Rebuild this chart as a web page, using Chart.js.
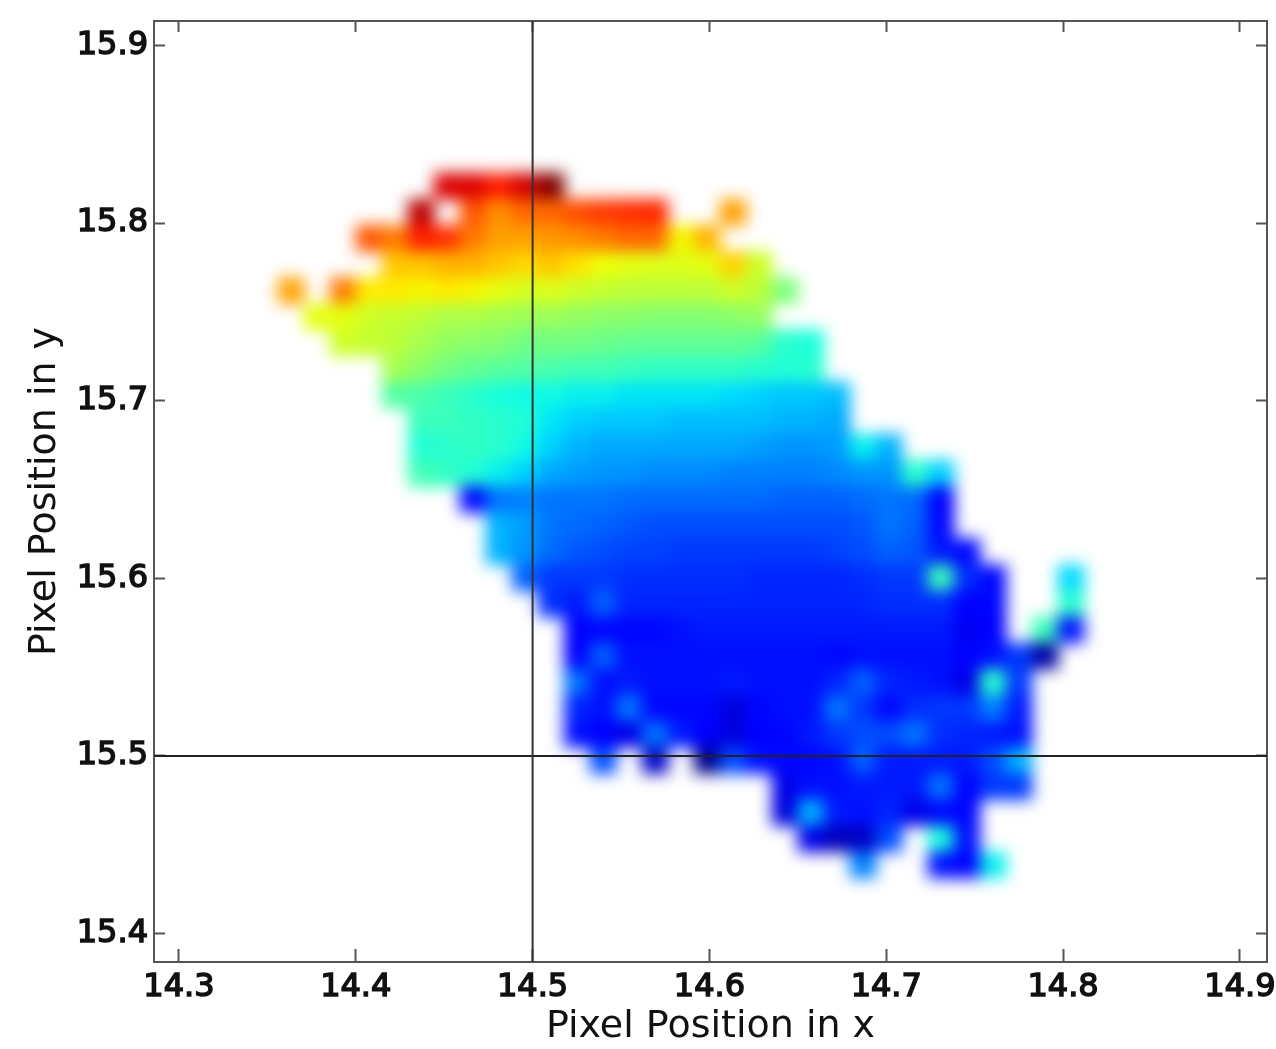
<!DOCTYPE html>
<html>
<head>
<meta charset="utf-8">
<title>Pixel Position</title>
<script src="https://cdn.jsdelivr.net/npm/chart.js@4/dist/chart.umd.min.js"></script>
<style>
  html, body { margin: 0; padding: 0; background: #fff; }
  .capa { position: absolute; left: 0; top: 0; width: 1276px; height: 1049px; }
  canvas { display: block; }
  /* the image in the reference is smoothed, the frame and text only a little */
  #celdas { filter: blur(8px); }
  #ejes { filter: blur(0.6px); }
</style>
</head>
<body>
<div class="capa"><canvas id="celdas"></canvas></div>
<div class="capa"><canvas id="ejes"></canvas></div>
<script>
// axis ranges and ticks
const xRange = [14.2859, 14.9153];
const yRange = [15.384, 15.9138];
const xTicks = [14.3, 14.4, 14.5, 14.6, 14.7, 14.8, 14.9];
const yTicks = [15.4, 15.5, 15.6, 15.7, 15.8, 15.9];
const crossX = 14.5;
const crossY = 15.5;

// centre of each cell column and row
const cellX = [14.3635, 14.3782, 14.3929, 14.4076, 14.4223, 14.437, 14.4517, 14.4664, 14.4811, 14.4958, 14.5105,
  14.5252, 14.5399, 14.5546, 14.5693, 14.584, 14.5987, 14.6134, 14.6281, 14.6428, 14.6575, 14.6722, 14.6869,
  14.7016, 14.7163, 14.731, 14.7457, 14.7604, 14.7751, 14.7898, 14.8045];
const cellY = [15.8208, 15.8061, 15.7914, 15.7767, 15.762, 15.7473, 15.7326, 15.7179, 15.7032, 15.6885, 15.6738,
  15.6591, 15.6444, 15.6297, 15.615, 15.6003, 15.5856, 15.5709, 15.5562, 15.5415, 15.5268, 15.5121, 15.4974,
  15.4827, 15.468, 15.4533, 15.4386];

// colour index of each cell (0-100), one array per row, _ = no data
const _ = null;
const row00 = [_,_,_,_,_,_,92,92,88,93,100,_,_,_,_,_,_,_,_,_,_,_,_,_,_,_,_,_,_,_,_];
const row01 = [_,_,_,_,_,95,_,82,76,80,80,83,85,86,87,_,_,74,_,_,_,_,_,_,_,_,_,_,_,_,_];
const row02 = [_,_,_,82,78,88,86,78,74,74,75,76,78,80,80,65,72,_,_,_,_,_,_,_,_,_,_,_,_,_,_];
const row03 = [_,_,_,_,70,70,72,72,70,68,70,67,64,63,62,62,63,69,60,_,_,_,_,_,_,_,_,_,_,_,_];
const row04 = [74,_,78,66,66,65,66,65,63,61,62,60,59,58,58,58,58,60,58,50,_,_,_,_,_,_,_,_,_,_,_];
const row05 = [_,63,63,60,59,58,56,56,55,54,54,53,52,52,51,51,51,52,53,_,_,_,_,_,_,_,_,_,_,_,_];
const row06 = [_,_,60,59,58,55,53,52,51,49,49,49,48,47,47,47,47,47,46,40,38,_,_,_,_,_,_,_,_,_,_];
const row07 = [_,_,_,_,55,52,49,47,46,45,44,43,43,42,41,41,41,41,40,39,40,_,_,_,_,_,_,_,_,_,_];
const row08 = [_,_,_,_,45,44,42,40,38,37,37,36,36,35,35,35,35,34,33,32,32,31,_,_,_,_,_,_,_,_,_];
const row09 = [_,_,_,_,_,42,42,41,40,39,35,33,32,32,32,31,31,31,31,30,30,29,_,_,_,_,_,_,_,_,_];
const row10 = [_,_,_,_,_,39,40,41,40,37,33,30,29,29,29,29,29,29,28,27,27,28,36,30,_,_,_,_,_,_,_];
const row11 = [_,_,_,_,_,43,41,39,36,33,29,28,27,27,26,26,26,25,25,25,25,26,27,27,40,33,_,_,_,_,_];
const row12 = [_,_,_,_,_,_,_,13,24,25,24,24,24,23,23,23,23,23,23,22,22,22,23,24,23,12,_,_,_,_,_];
const row13 = [_,_,_,_,_,_,_,_,30,28,24,23,22,21,20,20,20,20,20,20,20,20,21,24,22,13,_,_,_,_,_];
const row14 = [_,_,_,_,_,_,_,_,30,27,23,21,20,19,19,18,18,18,18,18,18,19,20,22,21,15,13,_,_,_,_];
const row15 = [_,_,_,_,_,_,_,_,_,22,18,18,18,17,17,17,17,17,16,16,16,16,17,18,18,42,17,13,_,_,34];
const row16 = [_,_,_,_,_,_,_,_,_,_,17,15,22,16,16,16,16,16,16,16,16,16,16,17,17,17,12,13,_,_,40];
const row17 = [_,_,_,_,_,_,_,_,_,_,_,12,13,13,13,14,15,15,15,15,15,15,15,15,15,15,10,12,_,42,14];
const row18 = [_,_,_,_,_,_,_,_,_,_,_,12,22,14,14,14,14,14,14,14,14,13,14,14,14,14,11,14,18,3,_];
const row19 = [_,_,_,_,_,_,_,_,_,_,_,24,14,15,14,14,14,15,14,14,14,16,22,16,15,14,9,40,18,_,_];
const row20 = [_,_,_,_,_,_,_,_,_,_,_,16,14,24,13,13,13,8,13,14,14,24,18,13,17,18,18,25,15,_,_];
const row21 = [_,_,_,_,_,_,_,_,_,_,_,14,12,9,24,15,12,8,12,13,15,18,20,20,24,17,16,15,14,_,_];
const row22 = [_,_,_,_,_,_,_,_,_,_,_,_,20,_,6,_,1,20,14,13,13,14,22,15,15,15,15,20,30,_,_];
const row23 = [_,_,_,_,_,_,_,_,_,_,_,_,_,_,_,_,_,_,_,9,14,14,15,15,15,24,11,18,18,_,_];
const row24 = [_,_,_,_,_,_,_,_,_,_,_,_,_,_,_,_,_,_,_,8,30,15,14,16,9,13,13,_,_,_,_];
const row25 = [_,_,_,_,_,_,_,_,_,_,_,_,_,_,_,_,_,_,_,_,9,5,6,20,_,38,14,_,_,_,_];
const row26 = [_,_,_,_,_,_,_,_,_,_,_,_,_,_,_,_,_,_,_,_,_,_,25,_,_,14,11,36,_,_,_];
const rows = [row00, row01, row02, row03, row04, row05, row06, row07, row08, row09, row10, row11, row12, row13,
  row14, row15, row16, row17, row18, row19, row20, row21, row22, row23, row24, row25, row26];

// jet colormap
function tramo(v, puntos) {
  for (let i = 1; i < puntos.length; i++) {
    if (v <= puntos[i][0]) {
      const [a, ya] = puntos[i - 1];
      const [b, yb] = puntos[i];
      return ya + (yb - ya) * (v - a) / (b - a);
    }
  }
  return puntos[puntos.length - 1][1];
}
function jet(v) {
  const t = v / 100;
  const r = tramo(t, [[0, 0], [0.35, 0], [0.66, 1], [0.89, 1], [1, 0.5]]);
  const g = tramo(t, [[0, 0], [0.125, 0], [0.375, 1], [0.64, 1], [0.91, 0], [1, 0]]);
  const b = tramo(t, [[0, 0.5], [0.11, 1], [0.34, 1], [0.65, 0], [1, 0]]);
  return `rgb(${Math.round(r * 255)}, ${Math.round(g * 255)}, ${Math.round(b * 255)})`;
}

const cells = [];
rows.forEach((row, i) => {
  row.forEach((v, j) => {
    if (v !== null) cells.push({ x: cellX[j], y: cellY[i], v: v });
  });
});

const LINE = '#555';
const TEXT = '#111';

function fijarCaja(ancho, alto) {
  return scale => {
    if (ancho !== null) scale.width = ancho;
    if (alto !== null) scale.height = alto;
    scale.paddingLeft = scale.paddingRight = scale.paddingTop = scale.paddingBottom = 0;
  };
}
function ejeBase(rango, marcas, largo) {
  return {
    type: 'linear',
    min: rango[0],
    max: rango[1],
    afterBuildTicks: scale => { scale.ticks = marcas.map(v => ({ value: v })); },
    border: { display: true, color: LINE, width: 2 },
    grid: { drawOnChartArea: false, drawTicks: true, tickLength: -largo, tickWidth: 2, tickColor: LINE }
  };
}
const fuenteTicks = { family: '"DejaVu Sans"', size: 32 };
const fuenteTitulo = { family: '"DejaVu Sans"', size: 38 };

// cells go in their own chart, under the axes, with the same plot area
new Chart(document.getElementById('celdas'), {
  type: 'scatter',
  data: {
    datasets: [{
      data: cells,
      pointStyle: 'rect',
      pointRadius: 19,
      pointBorderWidth: 0,
      pointBackgroundColor: c => jet(c.raw.v)
    }]
  },
  options: {
    responsive: true,
    maintainAspectRatio: false,
    animation: false,
    events: [],
    layout: { autoPadding: false, padding: { top: 21, right: 9, left: 154, bottom: 87 } },
    plugins: { legend: { display: false }, tooltip: { enabled: false } },
    scales: {
      x: { type: 'linear', display: false, min: xRange[0], max: xRange[1] },
      y: { type: 'linear', display: false, min: yRange[0], max: yRange[1] }
    }
  }
});

new Chart(document.getElementById('ejes'), {
  type: 'scatter',
  data: {
    datasets: [
      {
        data: [{ x: crossX, y: yRange[0] }, { x: crossX, y: yRange[1] }],
        showLine: true, borderColor: '#333', borderWidth: 2, pointRadius: 0
      },
      {
        data: [{ x: xRange[0], y: crossY }, { x: xRange[1], y: crossY }],
        showLine: true, borderColor: '#222', borderWidth: 2, pointRadius: 0
      }
    ]
  },
  options: {
    responsive: true,
    maintainAspectRatio: false,
    animation: false,
    events: [],
    layout: { autoPadding: false, padding: { top: 21, right: 9, left: 0, bottom: 0 } },
    plugins: { legend: { display: false }, tooltip: { enabled: false } },
    scales: {
      x: {
        ...ejeBase(xRange, xTicks, 13),
        position: 'bottom',
        afterFit: fijarCaja(null, 87),
        ticks: {
          autoSkip: false, maxRotation: 0, padding: 19, color: TEXT, font: fuenteTicks,
          textStrokeWidth: 1.5, textStrokeColor: TEXT, callback: v => v.toFixed(1)
        },
        title: { display: true, text: 'Pixel Position in x', color: TEXT, font: fuenteTitulo, padding: { top: 0, bottom: -1 } }
      },
      y: {
        ...ejeBase(yRange, yTicks, 11),
        position: 'left',
        afterFit: fijarCaja(154, null),
        ticks: {
          autoSkip: false, padding: 17, color: TEXT, font: fuenteTicks,
          textStrokeWidth: 1.5, textStrokeColor: TEXT, callback: v => v.toFixed(1)
        },
        title: { display: true, text: 'Pixel Position in y', color: TEXT, font: fuenteTitulo, padding: { top: 22, bottom: 0 } }
      },
      x2: {
        ...ejeBase(xRange, xTicks, 11),
        position: 'top',
        afterFit: fijarCaja(null, 0),
        ticks: { display: false }
      },
      y2: {
        ...ejeBase(yRange, yTicks, 11),
        position: 'right',
        afterFit: fijarCaja(0, null),
        ticks: { display: false }
      }
    }
  }
});
</script>
</body>
</html>
